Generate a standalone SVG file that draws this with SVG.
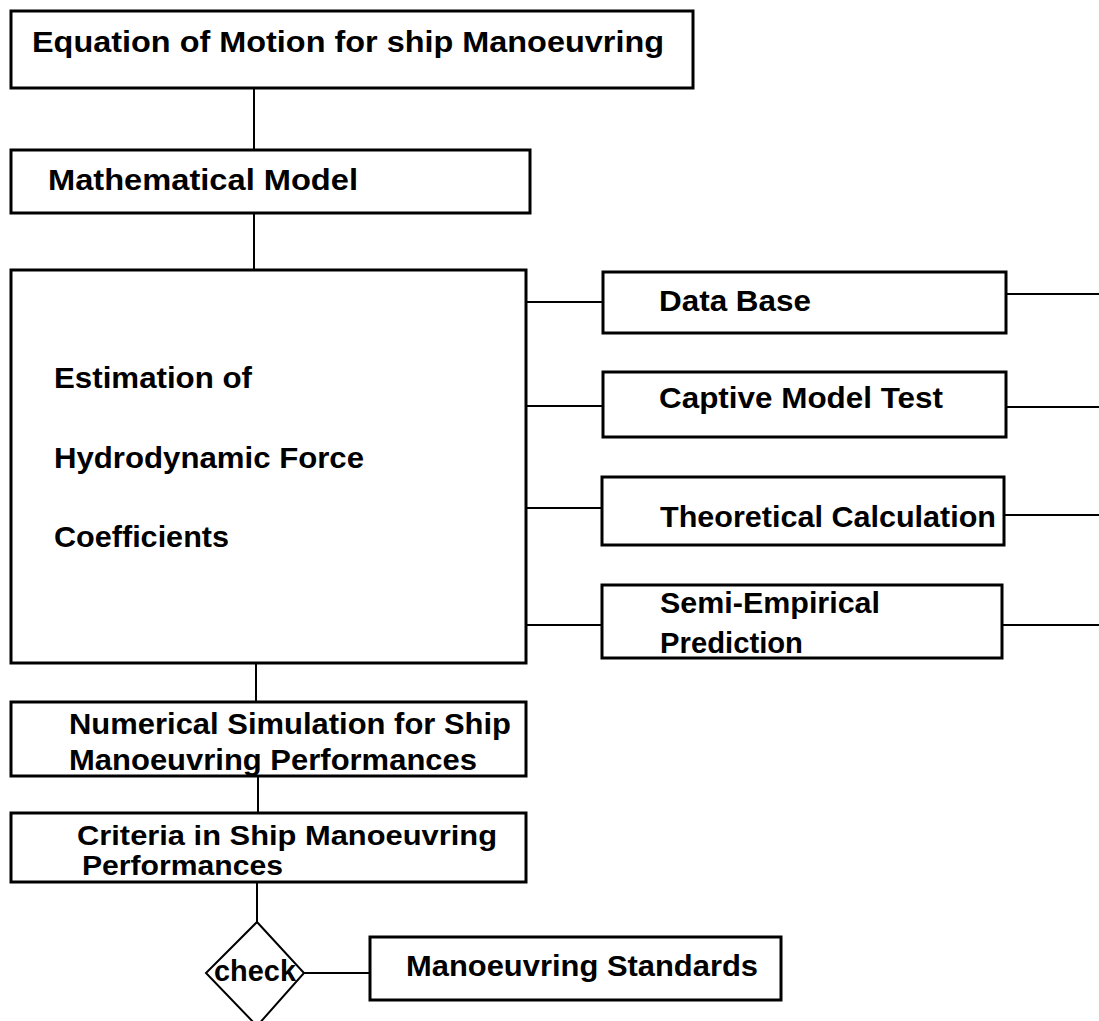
<svg xmlns="http://www.w3.org/2000/svg" width="1099" height="1021" viewBox="0 0 1099 1021">
<style>
.box{fill:#fff;stroke:#000;stroke-width:3}
.ln{stroke:#000;stroke-width:2;fill:none}
.dm{fill:#fff;stroke:#000;stroke-width:2}
.t{font-family:"Liberation Sans",Arial,sans-serif;font-weight:bold;font-size:30px;fill:#000}
.s{font-size:27px}
</style>
<rect width="1099" height="1021" fill="#fff"/>
<g id="connectors">
<line class="ln" x1="254" y1="88" x2="254" y2="150"/>
<line class="ln" x1="254" y1="213" x2="254" y2="270"/>
<line class="ln" x1="256" y1="663" x2="256" y2="702"/>
<line class="ln" x1="258" y1="776" x2="258" y2="813"/>
<line class="ln" x1="257" y1="882" x2="257" y2="922"/>
<line class="ln" x1="526" y1="302" x2="603" y2="302"/>
<line class="ln" x1="526" y1="406" x2="603" y2="406"/>
<line class="ln" x1="526" y1="508" x2="602" y2="508"/>
<line class="ln" x1="526" y1="625" x2="602" y2="625"/>
<line class="ln" x1="1006" y1="294" x2="1099" y2="294"/>
<line class="ln" x1="1006" y1="407" x2="1099" y2="407"/>
<line class="ln" x1="1004" y1="515" x2="1099" y2="515"/>
<line class="ln" x1="1002" y1="625" x2="1099" y2="625"/>
<line class="ln" x1="304" y1="973" x2="370" y2="973"/>
</g>
<g id="n-equation">
<rect class="box" x="11" y="11" width="682" height="77"/>
<text class="t" x="32" y="52" textLength="632" lengthAdjust="spacingAndGlyphs">Equation of Motion for ship Manoeuvring</text>
</g>
<g id="n-math">
<rect class="box" x="11" y="150" width="519" height="63"/>
<text class="t" x="48" y="190" textLength="310" lengthAdjust="spacingAndGlyphs">Mathematical Model</text>
</g>
<g id="n-estimation">
<rect class="box" x="11" y="270" width="515" height="393"/>
<text class="t" x="54" y="388" textLength="198" lengthAdjust="spacingAndGlyphs">Estimation of</text>
<text class="t" x="54" y="468" textLength="310" lengthAdjust="spacingAndGlyphs">Hydrodynamic Force</text>
<text class="t" x="54" y="547" textLength="175" lengthAdjust="spacingAndGlyphs">Coefficients</text>
</g>
<g id="n-database">
<rect class="box" x="603" y="272" width="403" height="61"/>
<text class="t" x="659" y="311" textLength="152" lengthAdjust="spacingAndGlyphs">Data Base</text>
</g>
<g id="n-captive">
<rect class="box" x="603" y="372" width="403" height="65"/>
<text class="t" x="659" y="408" textLength="284" lengthAdjust="spacingAndGlyphs">Captive Model Test</text>
</g>
<g id="n-theoretical">
<rect class="box" x="602" y="477" width="402" height="68"/>
<text class="t" x="660" y="527" textLength="336" lengthAdjust="spacingAndGlyphs">Theoretical Calculation</text>
</g>
<g id="n-semi">
<rect class="box" x="602" y="585" width="400" height="73"/>
<text class="t" x="660" y="613" textLength="220" lengthAdjust="spacingAndGlyphs">Semi-Empirical</text>
<text class="t" x="660" y="653" textLength="143" lengthAdjust="spacingAndGlyphs">Prediction</text>
</g>
<g id="n-numerical">
<rect class="box" x="11" y="702" width="515" height="74"/>
<text class="t" x="69" y="734" textLength="442" lengthAdjust="spacingAndGlyphs">Numerical Simulation for Ship</text>
<text class="t" x="69" y="770" textLength="408" lengthAdjust="spacingAndGlyphs">Manoeuvring Performances</text>
</g>
<g id="n-criteria">
<rect class="box" x="11" y="813" width="515" height="69"/>
<text class="t s" x="77" y="845" textLength="420" lengthAdjust="spacingAndGlyphs">Criteria in Ship Manoeuvring</text>
<text class="t s" x="82" y="875" textLength="201" lengthAdjust="spacingAndGlyphs">Performances</text>
</g>
<g id="n-check">
<polygon class="dm" points="257,922 304,973 257,1026 206,973"/>
<text class="t" x="214" y="981" textLength="82" lengthAdjust="spacingAndGlyphs">check</text>
</g>
<g id="n-standards">
<rect class="box" x="370" y="937" width="411" height="63"/>
<text class="t" x="406" y="976" textLength="352" lengthAdjust="spacingAndGlyphs">Manoeuvring Standards</text>
</g>
</svg>
